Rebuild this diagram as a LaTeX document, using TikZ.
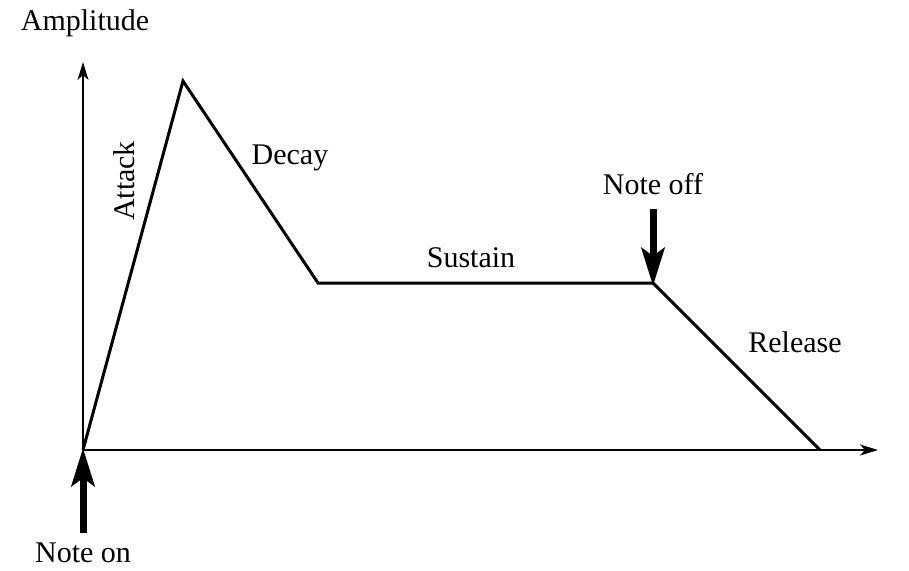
\documentclass[tikz,border=0pt]{standalone}
\usepackage{fontspec}
\setmainfont{Liberation Serif}
\usetikzlibrary{arrows.meta}
\begin{document}
\begin{tikzpicture}[x=1pt,y=-1pt,
  lbl/.style={font=\fontsize{30}{33}\selectfont, inner sep=0pt},
  axis/.style={line width=1.6pt, -{Stealth[length=18pt,width=11pt,inset=5pt]}},
  env/.style={line width=3pt, line join=miter},
  bigarrow/.style={line width=7pt, -{Stealth[length=38pt,width=23pt,inset=8pt]}}]
\useasboundingbox (0,0) rectangle (909,570);
\coordinate (O) at (83,450);
\coordinate (ytop) at (83,62);
\coordinate (xend) at (878,450);
\coordinate (peak) at (183,81);
\coordinate (sus1) at (318,283);
\coordinate (sus2) at (653,283);
\coordinate (rel) at (820,450);
\coordinate (offtop) at (653,209);
\coordinate (ontop) at (83,533);
\draw[axis] (O) -- (ytop);
\draw[axis] (O) -- (xend);
\draw[env] (O) -- (peak) -- (sus1) -- (sus2) -- (rel);
\draw[bigarrow] (offtop) -- ([yshift=-3pt]sus2);
\draw[bigarrow] (ontop) -- ([yshift=2pt]O);
\node[lbl] (amp) at (85,23) {Amplitude};
\node[lbl, rotate=90] (att) at (124,181) {Attack};
\node[lbl] (dec) at (290,158) {Decay};
\node[lbl] (sus) at (471,258) {Sustain};
\node[lbl] (noff) at (653,184) {Note off};
\node[lbl] (relL) at (795,342) {Release};
\node[lbl] (non) at (83,553) {Note on};
\end{tikzpicture}
\end{document}
